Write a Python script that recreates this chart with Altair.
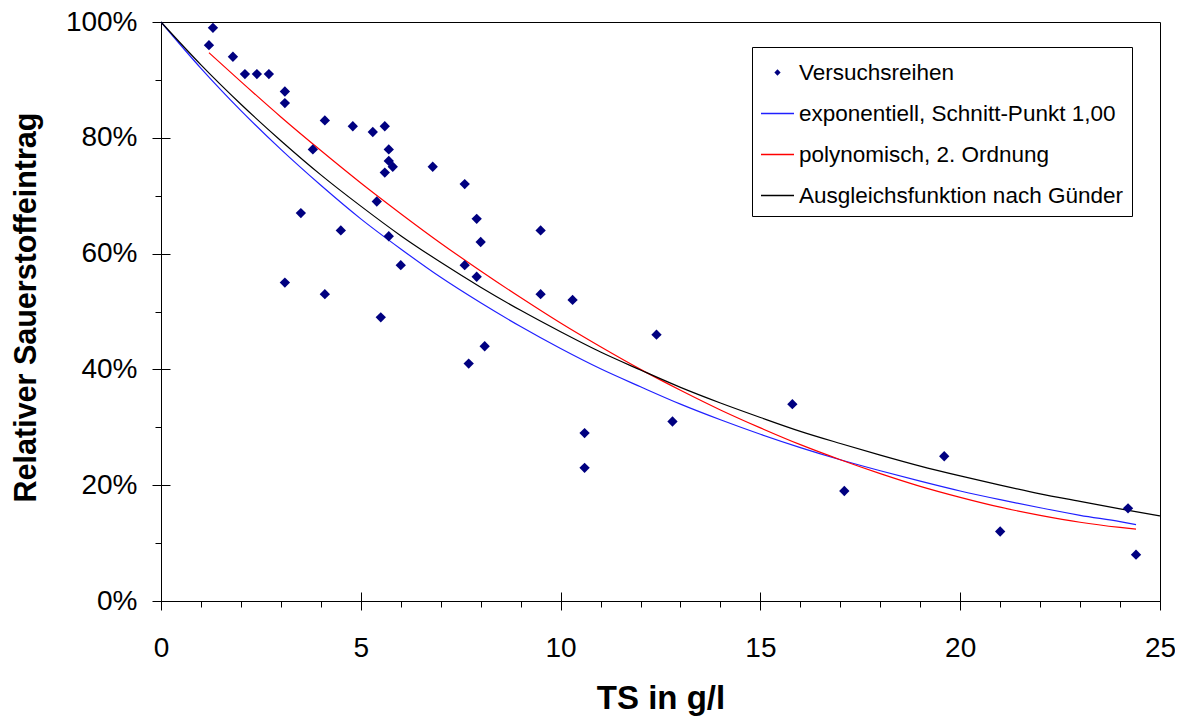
import altair as alt
import pandas as pd

# ---------------- data ----------------
series_names = [
    "Versuchsreihen",
    "exponentiell, Schnitt-Punkt 1,00",
    "polynomisch, 2. Ordnung",
    "Ausgleichsfunktion nach Günder",
]
series_colors = ["#000080", "#2020ff", "#ff0000", "#000000"]

# measured points (TS in g/l, relative oxygen transfer in %)
pts_x = [1.2, 1.3, 1.8, 2.1, 2.4, 2.7, 3.1, 3.1, 4.1, 4.8, 5.3, 5.6, 5.7, 5.7,
         5.8, 5.6, 6.8, 3.8, 5.4, 3.5, 4.5, 5.7, 6.0, 3.1, 4.1, 5.5, 9.5, 7.6,
         7.9, 8.0, 7.6, 7.9, 9.5, 10.3, 8.1, 7.7, 12.4, 12.8, 10.6, 10.6, 15.8,
         19.6, 17.1, 21.0, 24.2, 24.4]
pts_y = [96, 99, 94, 91, 91, 91, 88, 86, 83, 82, 81, 82, 78, 76,
         75, 74, 75, 78, 69, 67, 64, 63, 58, 55, 53, 49, 64, 72,
         66, 62, 58, 56, 53, 52, 44, 41, 46, 31, 29, 23, 34,
         25, 19, 12, 16, 8]

# trend lines, values
exp_x = [0, 1, 2, 3, 4, 5, 6, 7, 8, 9, 10, 11, 12, 13, 14, 15, 16, 17, 18, 19,
         20, 21, 22, 23, 24, 24.4]
exp_y = [100, 92.0, 84.7, 78.0, 71.8, 66.0, 60.8, 55.9, 51.5, 47.4, 43.6, 40.1,
         37.0, 34.0, 31.3, 28.8, 26.5, 24.4, 22.5, 20.7, 19.0, 17.5, 16.1, 14.8,
         13.7, 13.2]

poly_x = [1.2, 2, 3, 4, 5, 6, 7, 8, 9, 10, 11, 12, 13, 14, 15, 16, 17, 18, 19,
          20, 21, 22, 23, 24, 24.4]
poly_y = [94.7, 89.7, 83.6, 77.8, 72.2, 66.9, 61.8, 57.0, 52.4, 48.0, 43.9, 40.0,
          36.4, 33.0, 29.9, 27.0, 24.4, 22.0, 19.8, 17.9, 16.2, 14.8, 13.6, 12.7,
          12.4]

guender_x = [0, 1, 2, 3, 4, 5, 6, 7, 8, 9, 10, 11, 12, 13, 14, 15, 16, 17, 18,
             19, 20, 21, 22, 23, 24, 25]
guender_y = [100, 92.6, 85.8, 79.5, 73.6, 68.2, 63.1, 58.5, 54.2, 50.2, 46.5,
             43.0, 39.9, 36.9, 34.2, 31.7, 29.3, 27.2, 25.2, 23.3, 21.6, 20.0,
             18.5, 17.2, 15.9, 14.7]

x_minor_ticks = list(range(0, 26))
x_major_ticks = [0, 5, 10, 15, 20, 25]
y_minor_ticks = [0, 10, 20, 30, 40, 50, 60, 70, 80, 90, 100]
y_major_ticks = [0, 20, 40, 60, 80, 100]

FONT = "Liberation Sans"

# ---------------- tables ----------------
points_df = pd.DataFrame({"x": pts_x, "y": pts_y, "series": series_names[0]})
exp_df = pd.DataFrame({"x": exp_x, "y": exp_y})
poly_df = pd.DataFrame({"x": poly_x, "y": poly_y})
guender_df = pd.DataFrame({"x": guender_x, "y": guender_y})

xs = alt.Scale(domain=[0, 25], nice=False, zero=False)
ys = alt.Scale(domain=[0, 100], nice=False, zero=False)
color_scale = alt.Scale(domain=series_names, range=series_colors)

diamond = "M0,-0.19L0.19,0L0,0.19L-0.19,0Z"
dash = "M-1,-0.045H1V0.045H-1Z"
shape_scale = alt.Scale(domain=series_names, range=[diamond, dash, dash, dash])

legend = alt.Legend(
    title=None, orient="none", legendX=591, legendY=25, direction="vertical",
    strokeColor="black", fillColor="white", padding=9, rowPadding=13,
    labelFont=FONT, labelFontSize=22.5, labelColor="black", labelLimit=600,
    labelOffset=5, symbolSize=1089, symbolStrokeWidth=0, symbolOpacity=1,
)

# exponential fit carries the labelled major axes
exp_line = alt.Chart(exp_df).mark_line(
    strokeWidth=1.2, interpolate="monotone", color=series_colors[1]
).encode(
    x=alt.X("x:Q", scale=xs, axis=alt.Axis(
        orient="bottom", values=x_major_ticks, tickSize=9, domain=False,
        labels=True, labelFont=FONT, labelFontSize=28, labelColor="black",
        labelPadding=24, labelFlush=False, title=None, tickColor="black")),
    y=alt.Y("y:Q", scale=ys, axis=alt.Axis(
        orient="left", values=y_major_ticks, tickSize=9, domain=False,
        labels=True, labelExpr="datum.value + '%'", labelFont=FONT,
        labelFontSize=28, labelColor="black", labelPadding=15, labelFlush=False,
        title=None, tickColor="black")),
)

# polynomial fit carries the inner half of the crossing major ticks
poly_line = alt.Chart(poly_df).mark_line(
    strokeWidth=1.2, interpolate="monotone", color=series_colors[2]
).encode(
    x=alt.X("x:Q", scale=xs, axis=alt.Axis(
        orient="bottom", offset=-9, values=x_major_ticks, tickSize=9,
        domain=False, labels=False, title=None, tickColor="black")),
    y=alt.Y("y:Q", scale=ys, axis=alt.Axis(
        orient="left", offset=-9, values=y_major_ticks, tickSize=9,
        domain=False, labels=False, title=None, tickColor="black")),
)

guender_line = alt.Chart(guender_df).mark_line(
    strokeWidth=1.2, interpolate="monotone", color=series_colors[3]
).encode(
    x=alt.X("x:Q", scale=xs, axis=None),
    y=alt.Y("y:Q", scale=ys, axis=None),
)

# measured points carry the minor ticks, the domain lines, titles and legend
points = alt.Chart(points_df).mark_point(filled=True, size=2950, opacity=1, strokeWidth=0).encode(
    x=alt.X("x:Q", scale=xs, axis=alt.Axis(
        orient="bottom", values=x_minor_ticks, tickSize=6, labels=False,
        domain=True, domainColor="black", tickColor="black",
        title="TS in g/l", titleFont=FONT, titleFontSize=33,
        titleFontWeight="bold", titleColor="black", titleX=499.5, titleY=107,
        titleBaseline="alphabetic", titleAlign="center", titleAngle=0)),
    y=alt.Y("y:Q", scale=ys, axis=alt.Axis(
        orient="left", values=y_minor_ticks, tickSize=6, labels=False,
        domain=True, domainColor="black", tickColor="black",
        title="Relativer Sauerstoffeintrag", titleFont=FONT, titleFontSize=30.5,
        titleFontWeight="bold", titleColor="black", titleX=-126, titleY=285,
        titleBaseline="alphabetic", titleAlign="center", titleAngle=270)),
    color=alt.Color("series:N", scale=color_scale, legend=legend),
    shape=alt.Shape("series:N", scale=shape_scale, legend=legend),
)

chart = alt.layer(exp_line, poly_line, guender_line, points).resolve_axis(
    x="independent", y="independent"
).properties(
    width=999, height=579,
    autosize=alt.AutoSizeParams(type="none"),
    padding={"left": 153, "top": 14, "right": 15, "bottom": 118},
    background="white",
).configure_view(
    stroke="black", strokeWidth=1
).configure_axis(
    grid=False, tickWidth=1, domainWidth=1
)

chart.save("out.html", embed_options={"renderer": "svg", "actions": False})
